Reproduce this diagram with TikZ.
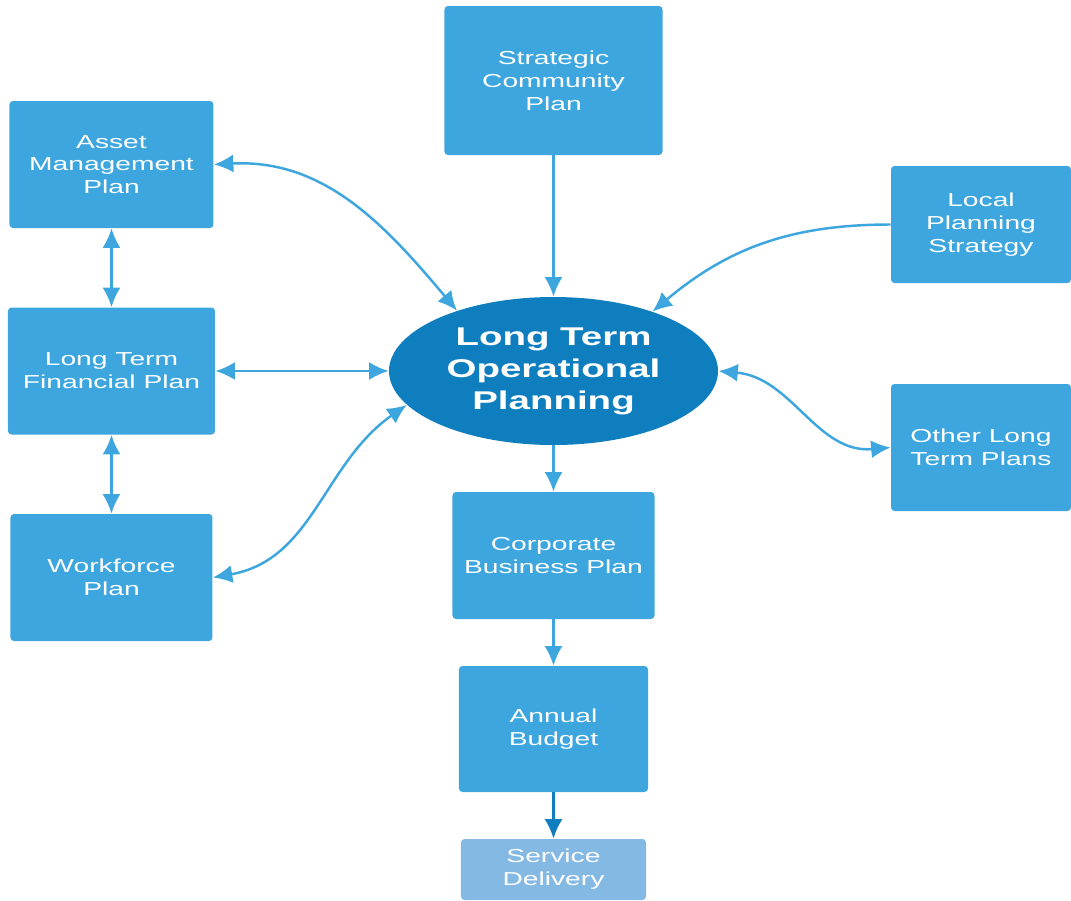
\documentclass[tikz,border=0pt]{standalone}
\usepackage{fontspec}
\usepackage{tikz}
\usepackage{xcolor}
\usetikzlibrary{shapes.geometric}
\usetikzlibrary{positioning}
\usetikzlibrary{arrows.meta}
\newfontfamily\planfont[FakeStretch=1.5]{Liberation Sans}
\definecolor{planblue}{HTML}{3DA6DE}
\definecolor{coreblue}{HTML}{0F7EBE}
\definecolor{lightblue}{HTML}{84B9E4}
\tikzstyle{plan} = [rectangle, rounded corners=2pt, minimum width=4.04cm, minimum height=2.54cm, inner sep=0pt, text centered, align=center, fill=planblue, text=white, font=\planfont\fontsize{10.7pt}{13pt}\selectfont]
\tikzstyle{core} = [ellipse, minimum width=6.58cm, minimum height=2.96cm, inner sep=0pt, text centered, align=center, fill=coreblue, text=white, font=\planfont\bfseries\fontsize{14.6pt}{18.2pt}\selectfont]
\tikzstyle{result} = [plan, fill=lightblue]
\tikzstyle{arrow} = [line width=1.4pt, draw=planblue, -{Latex[length=3.9mm, width=3.6mm]}]
\tikzstyle{twoway} = [line width=1.4pt, draw=planblue, {Latex[length=3.9mm, width=3.6mm]}-{Latex[length=3.9mm, width=3.6mm]}]

\begin{document}
\begin{tikzpicture}[node distance=2cm]
        \useasboundingbox (-11.07,-10.58) rectangle (10.35,7.42);
        \node (ltop) [core] {Long Term\\Operational\\Planning};
        \node (strat) [plan, above of=ltop, yshift=3.81cm, minimum width=4.36cm, minimum height=2.98cm] {Strategic\\Community\\Plan};
        \node (fin) [plan, left of=ltop, xshift=-6.84cm, minimum width=4.14cm] {Long Term\\Financial Plan};
        \node (asset) [plan, above of=fin, yshift=2.13cm, minimum width=4.08cm] {Asset\\Management\\Plan};
        \node (work) [plan, below of=fin, yshift=-2.13cm] {Workforce\\Plan};
        \node (local) [plan, right of=ltop, xshift=6.55cm, yshift=2.93cm, minimum width=3.6cm, minimum height=2.34cm] {Local\\Planning\\Strategy};
        \node (other) [plan, below of=local, yshift=-2.46cm, minimum width=3.6cm] {Other Long\\Term Plans};
        \node (corp) [plan, below of=ltop, yshift=-1.69cm] {Corporate\\Business Plan};
        \node (budget) [plan, below of=corp, yshift=-1.47cm, minimum width=3.78cm, minimum height=2.52cm] {Annual\\Budget};
        \node (service) [result, below of=budget, yshift=-0.81cm, minimum width=3.7cm, minimum height=1.22cm] {Service\\Delivery};

        \draw [twoway] (asset.east) to[out=3, in=130] (ltop.148);
        \draw [twoway] (fin) -- (ltop);
        \draw [twoway] (work.east) to[out=10, in=215] (ltop.193);
        \draw [twoway] (asset) -- (fin);
        \draw [twoway] (fin) -- (work);
        \draw [arrow] (strat) -- (ltop);
        \draw [arrow] (local.west) to[out=180, in=40] (ltop.31);
        \draw [twoway] (ltop.east) to[out=-5, in=185] (other.west);
        \draw [arrow] (ltop) -- (corp);
        \draw [arrow] (corp) -- (budget);
        \draw [arrow, draw=coreblue] (budget) -- (service);
    \end{tikzpicture}
\end{document}
